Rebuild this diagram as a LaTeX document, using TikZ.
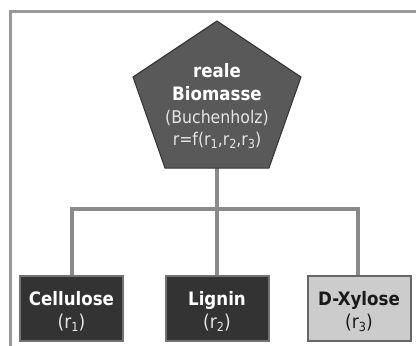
\documentclass[tikz,border=0pt]{standalone}
\usepackage{fontspec}
\setmainfont{DejaVu Sans Condensed}
\begin{document}
\begin{tikzpicture}[x=1pt,y=-1pt,
  conn/.style={draw=black!46,line width=4pt},
  darkbox/.style={draw=black!55,line width=2pt,fill=black!80,minimum width=103pt,minimum height=65pt,inner sep=0pt},
  lightbox/.style={darkbox,fill=black!20,draw=black!60},
  bl/.style={anchor=base,inner sep=0pt,font=\fontsize{18.5}{18}\selectfont\bfseries},
  rl/.style={anchor=base,inner sep=0pt,font=\fontsize{17.5}{17}\selectfont},
  rr/.style={anchor=base,inner sep=0pt,font=\fontsize{19}{19}\selectfont}]
\newcommand\mysub[1]{\raisebox{-0.3ex}{\fontsize{12.5}{12}\selectfont #1}}
\useasboundingbox (0,0) rectangle (416,346);
% frame
\draw[draw=black!40,line width=3pt] (10,350) -- (10,11) -- (420,11);
% pentagon
\coordinate (pt) at (217,21);
\coordinate (pl) at (133,77);
\coordinate (pr) at (301,77);
\coordinate (pbl) at (165,168);
\coordinate (pbr) at (269,168);
\coordinate (pb) at (217,168);
\coordinate (junc) at (217,209);
% boxes
\node[darkbox] (cell) at (71.5,308) {};
\node[darkbox] (lig) at (217,308) {};
\node[lightbox] (xyl) at (359,308) {};
% connectors
\draw[conn] (pb) -- (junc);
\draw[conn] (junc) -- (lig.north);
\draw[conn] (cell.north -| 72,0) |- (junc) -| (xyl.north -| 358,0);
\path[draw=black!80,line width=1pt,fill=black!65,line join=miter] (pt) -- (pr) -- (pbr) -- (pbl) -- (pl) -- cycle;
% pentagon text
\node[bl,text=white] (t1) at (217,77) {reale};
\node[bl,text=white] (t2) at (217,100) {Biomasse};
\node[rl,text=black!10] (t3) at (217,123) {(Buchenholz)};
\node[rl,text=black!10] (t4) at (217,145.5) {r=f(r\mysub{1},r\mysub{2},r\mysub{3})};
% box text
\node[bl,text=white] (c1) at (71.5,305) {Cellulose};
\node[rr,text=black!10] (c2) at (71.5,328) {(r\mysub{1})};
\node[bl,text=white] (l1) at (217,305) {Lignin};
\node[rr,text=black!10] (l2) at (217,328) {(r\mysub{2})};
\node[bl,text=black!90] (x1) at (359,305) {D-Xylose};
\node[rr,text=black!90] (x2) at (359,328) {(r\mysub{3})};
\end{tikzpicture}
\end{document}
